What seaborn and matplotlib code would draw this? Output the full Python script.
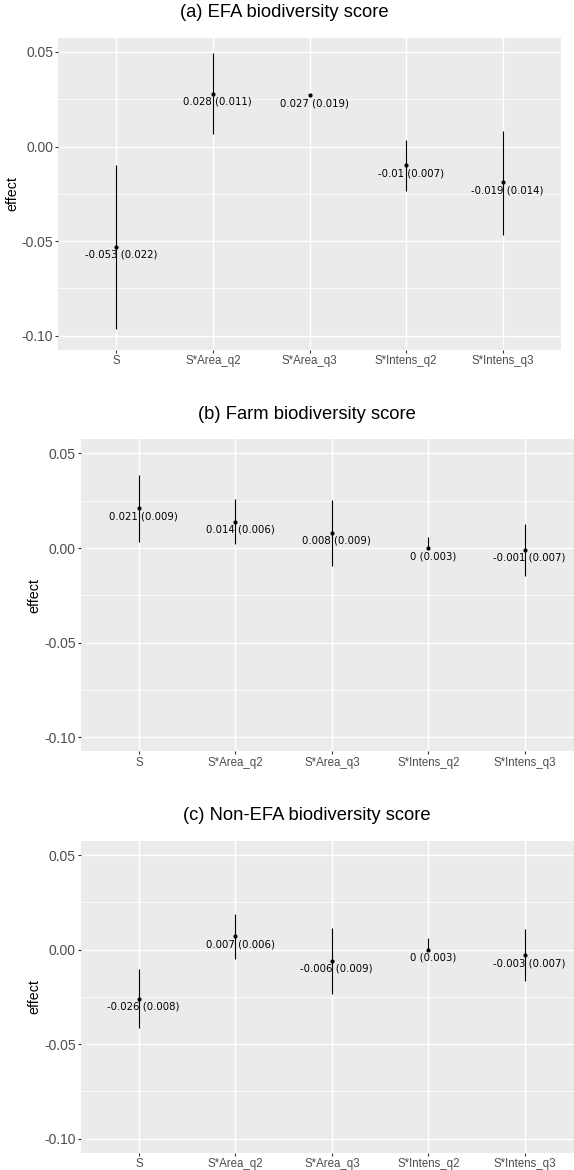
"""
Interaction effects on biodiversity scores - three stacked point/CI panels.
"""

import matplotlib
matplotlib.use("Agg")
import matplotlib.pyplot as plt
import numpy as np
import pandas as pd
import seaborn as sns

# ── Data ─────────────────────────────────────────────────────────────

terms = ["S", "S*Area_q2", "S*Area_q3", "S*Intens_q2", "S*Intens_q3"]

efa_est = [-0.053, 0.028, 0.027, -0.010, -0.019]
efa_se = [0.022, 0.011, 0.019, 0.007, 0.014]
efa_lo = [-0.0962, 0.0064, np.nan, -0.0237, -0.0465]
efa_hi = [-0.0099, 0.0496, np.nan, 0.0037, 0.0084]

farm_est = [0.021, 0.014, 0.008, 0.0, -0.001]
farm_se = [0.009, 0.006, 0.009, 0.003, 0.007]
farm_lo = [0.0034, 0.0022, -0.0096, 0.0, -0.0147]
farm_hi = [0.0386, 0.0258, 0.0256, 0.0059, 0.0127]

nonefa_est = [-0.026, 0.007, -0.006, 0.0, -0.003]
nonefa_se = [0.008, 0.006, 0.009, 0.003, 0.007]
nonefa_lo = [-0.0415, -0.0048, -0.0236, 0.0, -0.0167]
nonefa_hi = [-0.0102, 0.0188, 0.0116, 0.0059, 0.0107]

titles = [
    "(a) EFA biodiversity score",
    "(b) Farm biodiversity score",
    "(c) Non-EFA biodiversity score",
]
yticks = [-0.10, -0.05, 0.00, 0.05]
ytick_labels = ["-0.10", "-0.05", "0.00", "0.05"]
yminor = [-0.075, -0.025, 0.025]

# ── Theme ────────────────────────────────────────────────────────────

sns.set_theme(style="darkgrid", rc={
    "axes.facecolor": "#EBEBEB",
    "grid.color": "white",
    "figure.facecolor": "white",
})
plt.rcParams["font.family"] = ["Liberation Sans", "DejaVu Sans"]

W, H = 574, 1170
fig = plt.figure(figsize=(W / 100, H / 100), dpi=100)

# panel boxes in pixels: left, top, width, height ; title centre x, y ; ylabel x
panels = [
    dict(box=(58.3, 37.7, 502.4, 312.3), title=(284, 12.7), ylab=12.3),
    dict(box=(81.0, 439.3, 501.8, 312.0), title=(307, 414), ylab=34.3),
    dict(box=(81.0, 841.0, 501.8, 311.7), title=(307, 815), ylab=34.3),
]

series = [
    (efa_est, efa_se, efa_lo, efa_hi),
    (farm_est, farm_se, farm_lo, farm_hi),
    (nonefa_est, nonefa_se, nonefa_lo, nonefa_hi),
]


def fmt(v):
    return f"{v:g}"


for spec, (est, se, lo, hi), title in zip(panels, series, titles):
    l, t, w, h = spec["box"]
    ax = fig.add_axes([l / W, 1 - (t + h) / H, w / W, h / H])

    df = pd.DataFrame({"pos": np.arange(len(terms)), "term": terms,
                       "est": est, "se": se, "lo": lo, "hi": hi})
    df["label"] = [f"{fmt(e)} ({fmt(s)})" for e, s in zip(df["est"], df["se"])]

    ok = df.dropna(subset=["lo", "hi"])
    ax.vlines(ok["pos"], ok["lo"], ok["hi"], color="black", lw=0.8, zorder=3)
    sns.scatterplot(data=df, x="pos", y="est", color="black", s=9,
                    edgecolor="black", linewidth=0, ax=ax, zorder=4)

    for _, r in df.iterrows():
        ax.annotate(r["label"], xy=(r["pos"], r["est"]), xytext=(4.7, -8),
                    textcoords="offset pixels", ha="center", va="center",
                    fontsize=7.3, family="DejaVu Sans", color="black", zorder=5)

    ax.set_xlim(-0.6, len(terms) - 0.4)
    ax.set_ylim(-0.1075, 0.0575)
    ax.set_xticks(df["pos"], terms)
    ax.set_yticks(yticks, ytick_labels)
    ax.set_yticks(yminor, minor=True)

    ax.grid(which="major", color="white", lw=1.05)
    ax.grid(which="minor", axis="y", color="white", lw=0.55)
    for sp in ax.spines.values():
        sp.set_visible(False)

    ax.tick_params(which="major", length=2.2, width=0.8, color="#333333",
                   bottom=True, left=True, pad=1.6)
    ax.tick_params(which="minor", length=0)
    ax.tick_params(axis="x", labelsize=8.3, labelcolor="#4D4D4D")
    ax.tick_params(axis="y", labelsize=10, labelcolor="#4D4D4D")
    ax.set_xlabel("")
    ax.set_ylabel("")

    ax.text((spec["ylab"] - l) / w, 0.5, "effect", transform=ax.transAxes,
            rotation=90, ha="center", va="center", fontsize=10.3, color="black")
    fig.text(spec["title"][0] / W, 1 - spec["title"][1] / H, title,
             ha="center", va="center", fontsize=13.2, color="black")

fig.savefig("out.png", dpi=100)
plt.close(fig)
